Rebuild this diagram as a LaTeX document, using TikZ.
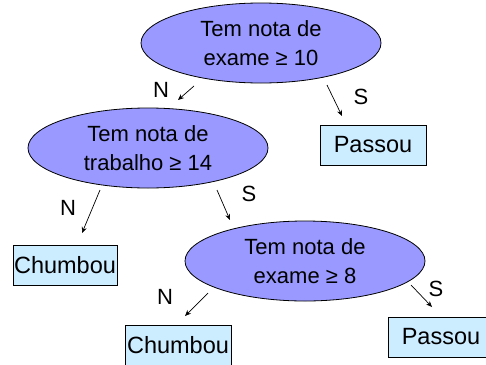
\documentclass[tikz,border=0pt]{standalone}
\usepackage{fontspec}
\setmainfont{Liberation Sans}
\usetikzlibrary{shapes.geometric,arrows.meta}
\definecolor{testefill}{RGB}{153,153,255}
\definecolor{resultfill}{RGB}{204,236,255}
\tikzset{
  teste/.style={ellipse, draw=black, line width=0.8pt, fill=testefill,
    minimum width=240pt, minimum height=80pt, inner sep=0pt, align=center,
    font=\fontsize{22}{29}\selectfont},
  resultado/.style={rectangle, draw=black, line width=0.8pt, fill=resultfill,
    minimum width=106pt, minimum height=40pt, inner sep=1pt,
    font=\fontsize{23.5}{28}\selectfont},
  ramo/.style={-{Stealth[length=6pt,width=5pt]}, line width=0.7pt},
  rotulo/.style={font=\fontsize{22}{26}\selectfont}
}
\begin{document}
\begin{tikzpicture}[x=1pt,y=-1pt]
      \useasboundingbox (0,0) rectangle (486,364);
      % testes
      \node[teste] (exame10) at (261,43) {Tem nota de\\exame ≥ 10};
      \node[teste] (trab14) at (148,148) {Tem nota de\\trabalho ≥ 14};
      \node[teste] (exame8) at (305,261) {Tem nota de\\exame ≥ 8};
      % resultados
      \node[resultado] (passou1) at (373,145) {Passou};
      \node[resultado, minimum width=104pt] (chumbou1) at (65,265) {Chumbou};
      \node[resultado] (chumbou2) at (178,345) {Chumbou};
      \node[resultado] (passou2) at (441,337) {Passou};
      % ramos
      \coordinate (n1a) at (194,86);  \coordinate (n1b) at (178,100);
      \coordinate (s1a) at (327,85);  \coordinate (s1b) at (342,116);
      \coordinate (n2a) at (100,190); \coordinate (n2b) at (82,233);
      \coordinate (s2a) at (217,190); \coordinate (s2b) at (230,220);
      \coordinate (n3a) at (208,293); \coordinate (n3b) at (185,316);
      \coordinate (s3a) at (411,285); \coordinate (s3b) at (432,307);
      \draw[ramo] (n1a) -- (n1b);
      \draw[ramo] (s1a) -- (s1b);
      \draw[ramo] (n2a) -- (n2b);
      \draw[ramo] (s2a) -- (s2b);
      \draw[ramo] (n3a) -- (n3b);
      \draw[ramo] (s3a) -- (s3b);
      \node[rotulo] (n1) at (161,90) {N};
      \node[rotulo] (s1) at (361,97) {S};
      \node[rotulo] (n2) at (68,208) {N};
      \node[rotulo] (s2) at (249,194) {S};
      \node[rotulo] (n3) at (165,297) {N};
      \node[rotulo] (s3) at (436,289) {S};
    \end{tikzpicture}
\end{document}
